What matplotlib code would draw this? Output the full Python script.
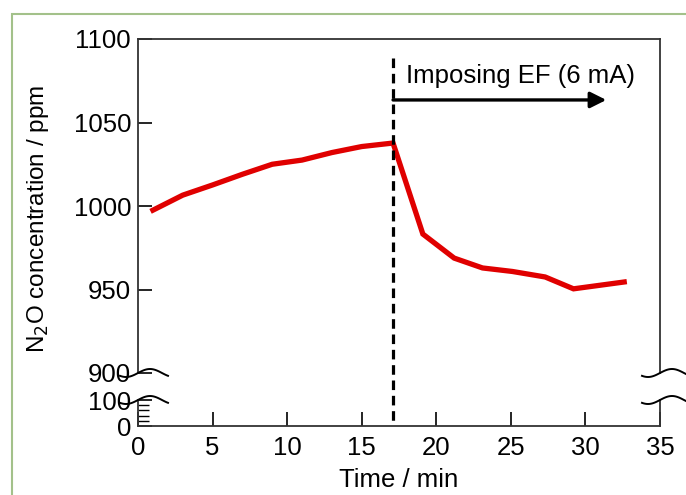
import numpy as np
import matplotlib
matplotlib.use('Agg')
import matplotlib.pyplot as plt
from matplotlib.lines import Line2D
from matplotlib.patches import Rectangle
from matplotlib.transforms import blended_transform_factory

plt.rcParams['font.family'] = ['Liberation Sans', 'DejaVu Sans']

# data
time_min = [1.0, 3.0, 5.0, 7.0, 9.0, 11.0, 13.0, 15.0, 17.1,
            19.1, 21.2, 23.1, 25.1, 27.3, 29.2, 32.6]
n2o_ppm = [997.5, 1006.5, 1012.6, 1019.0, 1025.0, 1027.5, 1032.0, 1035.6, 1037.7,
           983.2, 968.8, 962.9, 960.8, 957.5, 950.4, 954.5]
ef_start = 17.1
arrow_end = 31.4
x_ticks = [0, 5, 10, 15, 20, 25, 30, 35]
y_ticks_top = [900, 950, 1000, 1050, 1100]
y_ticks_low = [0, 100]

W, H = 686, 495
FS = 18.5
fig = plt.figure(figsize=(W / 100, H / 100), dpi=100)

# light green frame around the figure
fig.add_artist(Rectangle((12 / W, -0.1), 1.2, 1 - 14 / H + 0.1, transform=fig.transFigure,
                         fill=False, edgecolor='#A3C18A', lw=1.5))

left, right = 138 / W, 660 / W
ax = fig.add_axes([left, 1 - 373 / H, right - left, (373 - 39) / H])
axl = fig.add_axes([left, 1 - 426 / H, right - left, (426 - 400) / H])

ax.plot(time_min, n2o_ppm, color='#E00000', lw=3.8, solid_joinstyle='miter')
ax.set_xlim(0, 35)
ax.set_ylim(900, 1100)
ax.set_yticks(y_ticks_top)
ax.set_xticks([])
ax.spines['bottom'].set_visible(False)
ax.tick_params(axis='y', direction='in', length=10, width=1.2, labelsize=FS, pad=5)

axl.set_xlim(0, 35)
axl.set_ylim(0, 100)
axl.set_xticks(x_ticks)
axl.set_yticks(y_ticks_low)
axl.set_yticks([20, 40, 60, 80], minor=True)
axl.spines['top'].set_visible(False)
axl.tick_params(axis='y', direction='in', length=10, width=1.2, labelsize=FS, pad=5)
axl.tick_params(axis='x', direction='in', length=10, width=1.2, labelsize=FS, pad=7)
axl.tick_params(axis='y', which='minor', direction='in', length=8, width=1.0)
axl.patch.set_alpha(0)

for a in (ax, axl):
    for s in a.spines.values():
        s.set_color('#333333')
        s.set_linewidth(1.3)

axl.set_xlabel('Time / min', fontsize=FS, labelpad=6)
fig.text(38 / W, 1 - 219 / H, 'N$_2$O concentration / ppm', rotation=90,
         fontsize=17.5, ha='center', va='center')

# dashed line marking the start of EF
tr = blended_transform_factory(ax.transData, fig.transFigure)
fig.add_artist(Line2D([ef_start, ef_start], [1 - 58 / H, 1 - 426 / H], transform=tr,
                      color='black', lw=2.3, linestyle=(0, (3, 1.8))))

ax.annotate('', xy=(arrow_end, 1063.5), xytext=(ef_start, 1063.5),
            arrowprops=dict(arrowstyle='-|>', lw=2.4, color='black', mutation_scale=24,
                            shrinkA=0, shrinkB=0))
ax.text(18.0, 1078, 'Imposing EF (6 mA)', fontsize=FS, va='center', ha='left')

# axis break wiggles
dx = np.linspace(-18, 30, 60)
dy = 4 * np.sin(2 * np.pi * dx / 48)
for xs in (138, 660):
    for ys in (373, 400):
        fig.add_artist(Line2D((xs + dx) / W, 1 - (ys - dy) / H, transform=fig.transFigure,
                              color='black', lw=1.4))

fig.savefig('out.png', dpi=100)
